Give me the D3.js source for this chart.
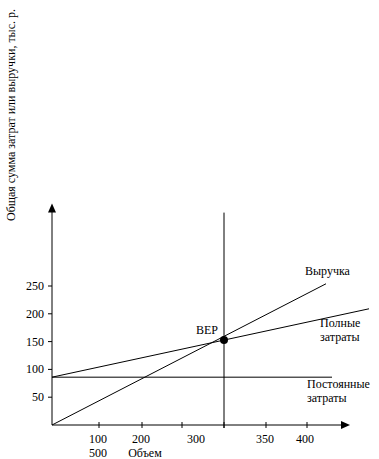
<!DOCTYPE html>
<html>
<head>
<meta charset="utf-8">
<script src="https://cdn.jsdelivr.net/npm/d3@7"></script>
<style>
  body { margin: 0; background: #fff; }
  text { font-family: "Liberation Serif", "Times New Roman", serif; font-size: 12px; fill: #000; }
</style>
</head>
<body>
<div id="chart"></div>
<script>
// volume axis ticks (in chart volume units) and their odd labels
var xTickValues = [47, 90, 130, 172, 214, 255];
var xTickLabels = [
    { text: "100", at: 46, row: 0 },
    { text: "200", at: 89, row: 0 },
    { text: "300", at: 144, row: 0 },
    { text: "350", at: 213, row: 0 },
    { text: "400", at: 253, row: 0 },
    { text: "500", at: 46, row: 1 },
    { text: "Объем", at: 93, row: 1 }
];
var yTickValues = [50, 100, 150, 200, 250];

// lines: [volume, sum]
var revenue = [[0, 0], [274, 254]];
var totalCosts = [[0, 86], [317, 209]];
var fixedCosts = [[0, 86], [280, 86]];
var bep = [172, 153];
var bepLineTop = 382;
var axisMax = { x: 296, y: 395 };

var lineLabels = [
    { lines: ["Выручка"], x: 253, y: 269 },
    { lines: ["Полные", "затраты"], x: 268, y: 177 },
    { lines: ["Постоянные", "затраты"], x: 255, y: 66 },
    { lines: ["BEP"], x: 144, y: 163 }
];

var width = 379, height = 459;

var svg = d3.select("#chart").append("svg")
    .attr("width", width)
    .attr("height", height);

var x = d3.scaleLinear().domain([0, 298]).range([52, 350]);
var y = d3.scaleLinear().domain([0, 250]).range([425, 286]);

// y axis with arrow
svg.append("line")
    .attr("x1", x(0)).attr("x2", x(0))
    .attr("y1", y(0)).attr("y2", y(axisMax.y) + 4)
    .attr("stroke", "#000");
svg.append("path")
    .attr("d", `M${x(0)},${y(axisMax.y) - 2} L${x(0) - 4},${y(axisMax.y) + 7} L${x(0) + 4},${y(axisMax.y) + 7} Z`)
    .attr("fill", "#000");

// x axis with arrow
svg.append("line")
    .attr("x1", x(0)).attr("x2", x(axisMax.x) - 4)
    .attr("y1", y(0)).attr("y2", y(0))
    .attr("stroke", "#000");
svg.append("path")
    .attr("d", `M${x(axisMax.x) + 2},${y(0)} L${x(axisMax.x) - 7},${y(0) - 4} L${x(axisMax.x) - 7},${y(0) + 4} Z`)
    .attr("fill", "#000");

// y ticks
svg.selectAll(".ytick")
    .data(yTickValues)
    .join("line")
    .attr("class", "ytick")
    .attr("x1", x(0) - 4).attr("x2", x(0))
    .attr("y1", d => y(d)).attr("y2", d => y(d))
    .attr("stroke", "#000");
svg.selectAll(".ylabel")
    .data(yTickValues)
    .join("text")
    .attr("class", "ylabel")
    .attr("x", x(0) - 8)
    .attr("y", d => y(d) + 4)
    .attr("text-anchor", "end")
    .text(d => d);

// x ticks
svg.selectAll(".xtick")
    .data(xTickValues)
    .join("line")
    .attr("class", "xtick")
    .attr("x1", d => x(d)).attr("x2", d => x(d))
    .attr("y1", y(0) - 3).attr("y2", y(0) + 3)
    .attr("stroke", "#000");
svg.selectAll(".xlabel")
    .data(xTickLabels)
    .join("text")
    .attr("class", "xlabel")
    .attr("x", d => x(d.at))
    .attr("y", d => y(0) + 18 + d.row * 14)
    .attr("text-anchor", "middle")
    .text(d => d.text);

// y axis title
svg.append("text")
    .attr("transform", "translate(15,115) rotate(-90)")
    .attr("text-anchor", "middle")
    .text("Общая сумма затрат или выручки, тыс. р.");

// BEP vertical line
svg.append("line")
    .attr("x1", x(bep[0])).attr("x2", x(bep[0]))
    .attr("y1", y(bepLineTop)).attr("y2", y(0) + 3)
    .attr("stroke", "#000");

var line = d3.line().x(d => x(d[0])).y(d => y(d[1]));
[revenue, totalCosts, fixedCosts].forEach(function (d) {
    svg.append("path")
        .attr("d", line(d))
        .attr("fill", "none")
        .attr("stroke", "#000")
        .attr("stroke-width", 1);
});

svg.append("circle")
    .attr("cx", x(bep[0])).attr("cy", y(bep[1]))
    .attr("r", 4)
    .attr("fill", "#000");

lineLabels.forEach(function (l) {
    var t = svg.append("text")
        .attr("x", x(l.x))
        .attr("y", y(l.y));
    l.lines.forEach(function (s, i) {
        t.append("tspan")
            .attr("x", x(l.x))
            .attr("dy", i == 0 ? 0 : 14)
            .text(s);
    });
});
</script>
</body>
</html>
